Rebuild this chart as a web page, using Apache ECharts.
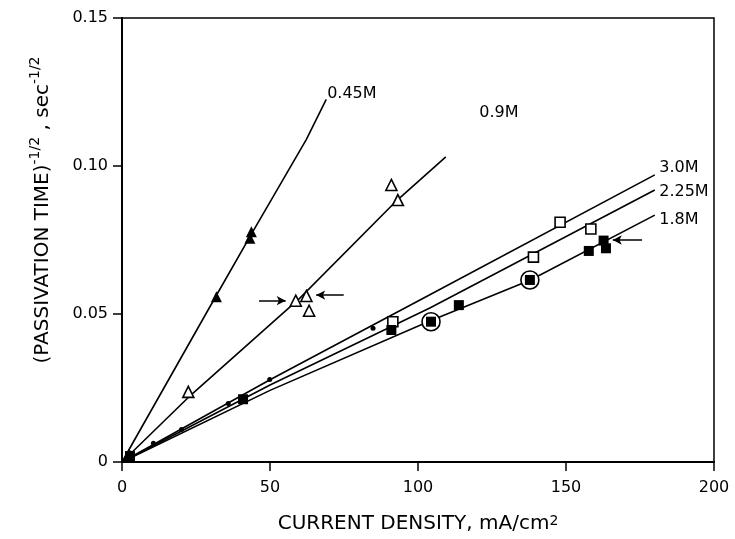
<!DOCTYPE html>
<html>
<head>
<meta charset="utf-8">
<script src="https://cdn.jsdelivr.net/npm/echarts@6/dist/echarts.min.js"></script>
<style>
  html, body { margin: 0; padding: 0; background: #fff; }
  #chart { width: 735px; height: 539px; }
</style>
</head>
<body>
<div id="chart"></div>
<script>
// fitted curves [current density, value]
const fit045 = [[0, 0], [32, 0.0565], [44, 0.0775], [62.3, 0.109], [69, 0.1225]];
const fit09 = [[0, 0], [22.4, 0.0218], [60, 0.0553], [93, 0.0885], [109.4, 0.1031]];
const fit30 = [[0, 0], [50, 0.0278], [104, 0.0565], [180, 0.097]];
const fit225 = [[0, 0], [50, 0.026], [104, 0.052], [180, 0.0919]];
const fit18 = [[0, 0], [50, 0.0242], [104, 0.0476], [138, 0.0615], [180, 0.0834]];

// measured points
const filledTri = [[2.5, 0.0025], [31.9, 0.0558], [43.7, 0.0778], [43.2, 0.0756]];
const openTri = [[22.4, 0.0237], [58.7, 0.0545], [62.3, 0.0561], [63.2, 0.0511], [91, 0.0936], [93.2, 0.0885]];
const openSq = [[91.5, 0.0474], [139, 0.0692], [148, 0.081], [158.4, 0.0787]];
const filledSq = [[2.7, 0.002], [40.9, 0.0212], [91, 0.0446], [113.8, 0.053], [157.7, 0.0713], [162.7, 0.0748], [163.5, 0.0722]];
const circled = [[104.4, 0.0474], [137.8, 0.0615]];
const dots = [[2.7, 0.003], [10.6, 0.0063], [20.1, 0.011], [35.9, 0.0198], [49.9, 0.0279], [84.8, 0.0452]];

// curve labels [x, y, text]
const curveLabels = [[69.3, 0.1243, '0.45M'], [120.7, 0.1179, '0.9M'], [181.5, 0.0993, '3.0M'], [181.5, 0.0912, '2.25M'], [181.5, 0.0818, '1.8M']];
// arrows [from, to]
const arrows = [
  [[46.3, 0.0545], [55.3, 0.0545]],
  [[74.9, 0.0564], [65.6, 0.0564]],
  [[175.7, 0.075], [165.8, 0.075]]
];

const ink = '#000';
const font = 'DejaVu Sans';

function fitSeries(data) {
  return { type: 'line', data: data, showSymbol: false, silent: true,
    lineStyle: { color: ink, width: 1.6 }, z: 2 };
}
function pointSeries(data, symbol, size, fill, border) {
  return { type: 'scatter', data: data, symbol: symbol, symbolSize: size, z: 3,
    itemStyle: { color: fill, borderColor: ink, borderWidth: border, opacity: 1 } };
}

const chart = echarts.init(document.getElementById('chart'));
chart.setOption({
  animation: false,
  grid: { left: 122, right: 21, top: 18, bottom: 77, show: true, borderColor: ink, borderWidth: 1.5 },
  xAxis: {
    type: 'value', min: 0, max: 200, interval: 50,
    name: 'CURRENT DENSITY, mA/cm{sup|2}', nameLocation: 'middle', nameGap: 52,
    nameTextStyle: { color: ink, fontFamily: font, fontSize: 20,
      rich: { sup: { fontSize: 14, verticalAlign: 'top', lineHeight: 14, fontFamily: font, color: ink } } },
    axisLine: { lineStyle: { color: ink, width: 2 } },
    axisTick: { show: true, length: 9, lineStyle: { color: ink, width: 1.5 } },
    axisLabel: { color: ink, fontFamily: font, fontSize: 16, margin: 18 },
    splitLine: { show: false }
  },
  yAxis: {
    type: 'value', min: 0, max: 0.15, interval: 0.05,
    name: '(PASSIVATION TIME){sup|-1/2} , sec{sup|-1/2}', nameLocation: 'middle', nameGap: 64,
    nameTextStyle: { color: ink, fontFamily: font, fontSize: 20, padding: [0, 0, 0, 60], lineHeight: 30,
      rich: { sup: { fontSize: 14, verticalAlign: 'top', lineHeight: 14, fontFamily: font, color: ink } } },
    axisLine: { lineStyle: { color: ink, width: 2 } },
    axisTick: { show: true, length: 9, lineStyle: { color: ink, width: 1.5 } },
    axisLabel: { color: ink, fontFamily: font, fontSize: 16, margin: 14,
      formatter: v => v === 0 ? '0' : v.toFixed(2) },
    splitLine: { show: false }
  },
  series: [
    fitSeries(fit045),
    fitSeries(fit09),
    fitSeries(fit30),
    fitSeries(fit225),
    fitSeries(fit18),
    pointSeries(filledTri, 'triangle', 11, ink, 0),
    pointSeries(openTri, 'triangle', 11, '#fff', 1.6),
    pointSeries(openSq, 'rect', 10, '#fff', 1.6),
    pointSeries(circled, 'circle', 18, '#fff', 1.6),
    pointSeries(filledSq, 'rect', 10, ink, 0),
    pointSeries(circled, 'rect', 10, ink, 0),
    pointSeries(dots, 'circle', 5, ink, 0),
    {
      type: 'scatter', data: curveLabels, symbolSize: 0, silent: true,
      itemStyle: { opacity: 1 },
      label: { show: true, position: 'right', distance: 0, color: ink, fontFamily: font, fontSize: 16,
        formatter: p => p.data[2] },
      markLine: {
        silent: true, symbol: ['none', 'arrow'], symbolSize: [7, 9],
        lineStyle: { color: ink, width: 1.5, type: 'solid', opacity: 1 }, label: { show: false },
        data: arrows.map(a => [{ coord: a[0] }, { coord: a[1] }])
      }
    }
  ]
});
</script>
</body>
</html>
